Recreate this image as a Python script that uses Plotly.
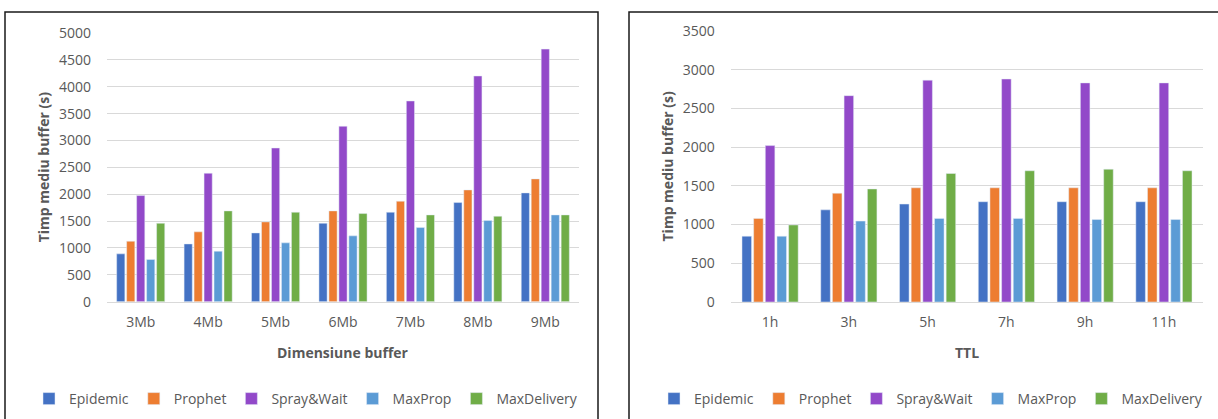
import plotly.graph_objects as go

# Protocol series and their colours
protocols = ["Epidemic", "Prophet", "Spray&Wait", "MaxProp", "MaxDelivery"]
colors = ["#4472C4", "#ED7D31", "#9249C9", "#5B9BD5", "#70AD47"]

# Left chart: buffer size
buffer_sizes = ["3Mb", "4Mb", "5Mb", "6Mb", "7Mb", "8Mb", "9Mb"]
buf_epidemic = [890, 1075, 1280, 1460, 1665, 1845, 2025]
buf_prophet = [1125, 1300, 1485, 1690, 1870, 2080, 2285]
buf_spray = [1975, 2390, 2860, 3265, 3735, 4200, 4700]
buf_maxprop = [785, 940, 1095, 1225, 1380, 1510, 1615]
buf_maxdelivery = [1460, 1690, 1665, 1640, 1615, 1590, 1615]

# Right chart: TTL
ttl_values = ["1h", "3h", "5h", "7h", "9h", "11h"]
ttl_epidemic = [850, 1190, 1265, 1295, 1295, 1295]
ttl_prophet = [1080, 1405, 1475, 1475, 1475, 1475]
ttl_spray = [2020, 2665, 2865, 2880, 2830, 2830]
ttl_maxprop = [850, 1045, 1080, 1080, 1065, 1065]
ttl_maxdelivery = [995, 1460, 1660, 1695, 1715, 1695]

W, H = 1218, 419
FONT = "Open Sans"
TXT = "#595959"
GRID = "#D9D9D9"


def px_x(p):
    return p / W


def px_y(p):
    return 1 - p / H


buf_series = [buf_epidemic, buf_prophet, buf_spray, buf_maxprop, buf_maxdelivery]
ttl_series = [ttl_epidemic, ttl_prophet, ttl_spray, ttl_maxprop, ttl_maxdelivery]

fig = go.Figure()

for name, color, vals in zip(protocols, colors, buf_series):
    fig.add_trace(go.Bar(
        x=buffer_sizes, y=vals, name=name, marker_color=color,
        xaxis="x", yaxis="y", legend="legend",
    ))

for name, color, vals in zip(protocols, colors, ttl_series):
    fig.add_trace(go.Bar(
        x=ttl_values, y=vals, name=name, marker_color=color,
        xaxis="x2", yaxis="y2", legend="legend2",
    ))

xaxis_style = dict(
    showgrid=False, showline=True, linecolor=GRID, linewidth=1,
    ticks="", tickfont=dict(family=FONT, size=14, color=TXT),
    ticklabelstandoff=7, fixedrange=True, automargin=False,
)
yaxis_style = dict(
    showgrid=True, gridcolor=GRID, gridwidth=1, zeroline=False,
    showline=False, ticks="", tickfont=dict(family=FONT, size=14, color=TXT),
    ticklabelstandoff=15, fixedrange=True, automargin=False,
)

legend_style = dict(
    orientation="h", xanchor="center", yanchor="middle",
    font=dict(family=FONT, size=14, color=TXT), bgcolor="rgba(0,0,0,0)",
    itemwidth=30, itemclick=False, itemdoubleclick=False,
)

fig.update_layout(
    width=W, height=H,
    margin=dict(l=0, r=0, t=0, b=0, autoexpand=False),
    paper_bgcolor="white", plot_bgcolor="white",
    barmode="group", bargap=0.26, bargroupgap=0.18,
    xaxis=dict(domain=[px_x(107), px_x(579)], anchor="y", **xaxis_style),
    yaxis=dict(domain=[px_y(301.7), px_y(33)], range=[0, 5000],
               tickvals=list(range(0, 5001, 500)), anchor="x", **yaxis_style),
    xaxis2=dict(domain=[px_x(730.7), px_x(1203.3)], anchor="y2", **xaxis_style),
    yaxis2=dict(domain=[px_y(302), px_y(31)], range=[0, 3500],
                tickvals=list(range(0, 3501, 500)), anchor="x2", **yaxis_style),
    legend=dict(x=px_x(306), y=px_y(399), **legend_style),
    legend2=dict(x=px_x(931), y=px_y(399), **legend_style),
    showlegend=True,
)

title_font = dict(family=FONT, size=14, color=TXT, weight="bold")
annotations = [
    dict(text="Timp mediu buffer (s)", x=px_x(43), y=px_y(167.3), textangle=-90),
    dict(text="Dimensiune buffer", x=px_x(343), y=px_y(352)),
    dict(text="Timp mediu buffer (s)", x=px_x(667), y=px_y(166.5), textangle=-90),
    dict(text="TTL", x=px_x(967), y=px_y(352)),
]
for a in annotations:
    fig.add_annotation(xref="paper", yref="paper", showarrow=False,
                       xanchor="center", yanchor="middle", font=title_font, **a)

# Chart frames
frame = dict(type="rect", xref="paper", yref="paper",
             line=dict(color="#1A1A1A", width=1.5), fillcolor="rgba(0,0,0,0)")
fig.add_shape(x0=px_x(5), x1=px_x(598), y0=-0.05, y1=px_y(12), **frame)
fig.add_shape(x0=px_x(629), x1=1.05, y0=-0.05, y1=px_y(12), **frame)

fig.write_html("out.html")
